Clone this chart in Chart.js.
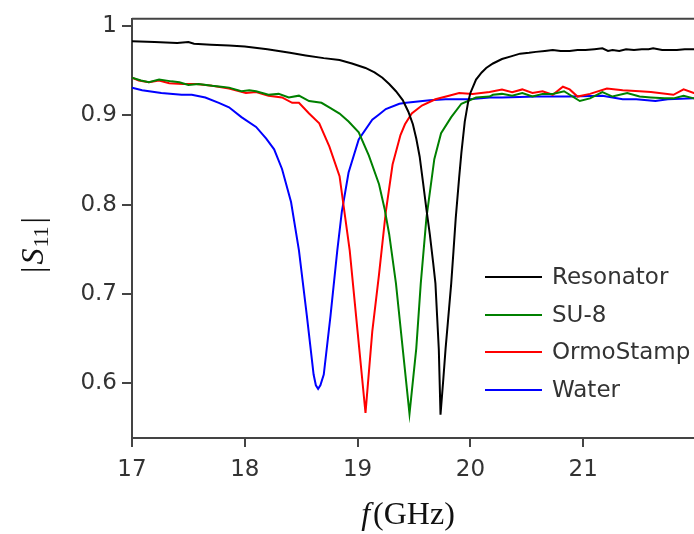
<!DOCTYPE html>
<html>
<head>
<meta charset="utf-8">
<script src="https://cdn.jsdelivr.net/npm/chart.js@4.4.1/dist/chart.umd.min.js"></script>
<style>
  html, body { margin: 0; padding: 0; background: #fff; overflow: hidden; }
  #wrap { position: absolute; left: 0; top: 0; width: 720px; height: 534px; }
</style>
</head>
<body>
<div id="wrap"><canvas id="myChart" width="720" height="534"></canvas></div>
<script>
// |S11| vs frequency (GHz)
var seriesNames = ['Resonator', 'SU-8', 'OrmoStamp', 'Water'];
var seriesColors = ['#000000', '#008000', '#ff0000', '#0000ff'];

var resonatorF = [17.00, 17.20, 17.40, 17.50, 17.55, 17.70, 17.86, 18.00, 18.20, 18.40, 18.54, 18.70, 18.84, 18.95, 19.07, 19.15,
  19.22, 19.28, 19.34, 19.40, 19.45, 19.49, 19.52, 19.55, 19.58, 19.61, 19.64, 19.67, 19.69, 19.705, 19.72, 19.735, 19.76, 19.78,
  19.80, 19.83, 19.85, 19.87, 19.90, 19.92, 19.95, 19.98, 20.00, 20.05, 20.10, 20.14, 20.20, 20.28, 20.36, 20.44, 20.52, 20.58,
  20.66, 20.73, 20.80, 20.88, 20.95, 21.02, 21.10, 21.17, 21.22, 21.26, 21.32, 21.38, 21.45, 21.52, 21.58, 21.62, 21.70, 21.76,
  21.83, 21.90, 21.98, 22.00];
var resonatorS = [0.983, 0.982, 0.981, 0.982, 0.980, 0.979, 0.978, 0.977, 0.974, 0.970, 0.967, 0.964, 0.962, 0.958, 0.953, 0.948,
  0.942, 0.935, 0.927, 0.917, 0.904, 0.890, 0.874, 0.854, 0.825, 0.795, 0.767, 0.735, 0.712, 0.675, 0.638, 0.565, 0.605, 0.639,
  0.668, 0.712, 0.748, 0.785, 0.830, 0.858, 0.893, 0.915, 0.925, 0.940, 0.948, 0.953, 0.958, 0.963, 0.966, 0.969, 0.970, 0.971,
  0.972, 0.973, 0.972, 0.972, 0.973, 0.973, 0.974, 0.975, 0.972, 0.973, 0.972, 0.974, 0.973, 0.974, 0.974, 0.975, 0.973, 0.973,
  0.973, 0.974, 0.974, 0.974];

var su8F = [17.00, 17.08, 17.15, 17.24, 17.35, 17.42, 17.50, 17.59, 17.71, 17.79, 17.86, 17.97, 18.04, 18.10, 18.21, 18.30, 18.39,
  18.48, 18.57, 18.68, 18.76, 18.84, 18.92, 19.01, 19.10, 19.19, 19.24, 19.28, 19.34, 19.40, 19.46, 19.52, 19.56, 19.61, 19.68,
  19.74, 19.83, 19.92, 20.05, 20.17, 20.20, 20.28, 20.37, 20.46, 20.55, 20.64, 20.73, 20.83, 20.97, 21.06, 21.17, 21.26, 21.39,
  21.50, 21.60, 21.72, 21.80, 21.89, 21.98, 22.00];
var su8S = [0.942, 0.939, 0.937, 0.940, 0.938, 0.937, 0.934, 0.935, 0.933, 0.932, 0.931, 0.927, 0.928, 0.927, 0.923, 0.924, 0.920,
  0.922, 0.916, 0.914, 0.908, 0.902, 0.893, 0.881, 0.855, 0.823, 0.795, 0.767, 0.712, 0.639, 0.566, 0.639, 0.712, 0.785, 0.851,
  0.880, 0.898, 0.913, 0.920, 0.921, 0.923, 0.924, 0.922, 0.925, 0.921, 0.924, 0.924, 0.927, 0.916, 0.919, 0.926, 0.921, 0.925,
  0.921, 0.920, 0.919, 0.919, 0.922, 0.919, 0.919];

var ormoF = [17.00, 17.06, 17.15, 17.24, 17.33, 17.45, 17.57, 17.71, 17.86, 18.01, 18.10, 18.21, 18.33, 18.42, 18.48, 18.57, 18.66,
  18.75, 18.84, 18.93, 19.00, 19.07, 19.13, 19.19, 19.25, 19.31, 19.38, 19.42, 19.48, 19.57, 19.69, 19.81, 19.90, 20.02, 20.17,
  20.28, 20.37, 20.46, 20.55, 20.64, 20.73, 20.82, 20.88, 20.95, 21.06, 21.21, 21.35, 21.50, 21.60, 21.80, 21.89, 21.98, 22.00];
var ormoS = [0.942, 0.939, 0.937, 0.939, 0.936, 0.935, 0.935, 0.933, 0.930, 0.925, 0.926, 0.922, 0.920, 0.914, 0.914, 0.902, 0.891,
  0.865, 0.832, 0.749, 0.658, 0.567, 0.658, 0.722, 0.792, 0.845, 0.878, 0.890, 0.902, 0.911, 0.918, 0.922, 0.925, 0.924, 0.926,
  0.929, 0.926, 0.929, 0.925, 0.927, 0.923, 0.932, 0.929, 0.921, 0.924, 0.930, 0.928, 0.927, 0.926, 0.923, 0.929, 0.925, 0.925];

var waterF = [17.00, 17.09, 17.26, 17.44, 17.53, 17.65, 17.77, 17.86, 17.97, 18.10, 18.19, 18.26, 18.33, 18.41, 18.48, 18.55, 18.61,
  18.63, 18.65, 18.67, 18.70, 18.76, 18.82, 18.86, 18.92, 19.01, 19.13, 19.19, 19.25, 19.37, 19.43, 19.64, 19.78, 19.99, 20.17,
  20.28, 20.59, 20.88, 21.17, 21.35, 21.47, 21.64, 21.75, 21.98, 22.00];
var waterS = [0.931, 0.928, 0.925, 0.923, 0.923, 0.920, 0.914, 0.909, 0.898, 0.887, 0.874, 0.862, 0.840, 0.803, 0.749, 0.676, 0.610,
  0.598, 0.594, 0.598, 0.610, 0.676, 0.749, 0.792, 0.836, 0.873, 0.895, 0.901, 0.907, 0.913, 0.914, 0.917, 0.918, 0.918, 0.920,
  0.920, 0.921, 0.921, 0.922, 0.918, 0.918, 0.916, 0.918, 0.919, 0.919];

var xTicks = [17, 18, 19, 20, 21];
var yTicks = [0.6, 0.7, 0.8, 0.9, 1];

function toPoints(f, s) {
  return f.map(function (v, i) { return {x: v, y: s[i]}; });
}
var allF = [resonatorF, su8F, ormoF, waterF];
var allS = [resonatorS, su8S, ormoS, waterS];

var datasets = seriesNames.map(function (name, i) {
  return {
    label: name,
    data: toPoints(allF[i], allS[i]),
    borderColor: seriesColors[i],
    backgroundColor: seriesColors[i],
    borderWidth: 2,
    pointRadius: 0,
    tension: 0,
    showLine: true
  };
});

var axisColor = '#444444';
var textColor = '#333333';

// frame, axis titles and legend drawn by hand
var extras = {
  id: 'extras',
  afterDraw: function (chart) {
    var ctx = chart.ctx;
    var a = chart.chartArea;
    ctx.save();
    ctx.strokeStyle = axisColor;
    ctx.lineWidth = 2;
    ctx.beginPath();
    ctx.moveTo(a.left, a.top);
    ctx.lineTo(a.right, a.top);
    ctx.lineTo(a.right, a.bottom);
    ctx.stroke();

    // x title: f(GHz)
    ctx.fillStyle = '#111';
    ctx.textBaseline = 'alphabetic';
    var fFont = 'italic 32px "Liberation Serif"';
    var rFont = '32px "Liberation Serif"';
    ctx.font = fFont;
    var w1 = ctx.measureText('f').width + 3;
    ctx.font = rFont;
    var w2 = ctx.measureText('(GHz)').width;
    var cx = 408, by = 524;
    var x0 = cx - (w1 + w2) / 2;
    ctx.font = fFont;
    ctx.fillText('f', x0, by);
    ctx.font = rFont;
    ctx.fillText('(GHz)', x0 + w1, by);

    // y title: |S11|
    ctx.save();
    ctx.translate(43, 245);
    ctx.rotate(-Math.PI / 2);
    var barW, sW, subW;
    ctx.font = rFont;
    barW = ctx.measureText('|').width;
    ctx.font = fFont;
    sW = ctx.measureText('S').width;
    ctx.font = '22px "Liberation Serif"';
    subW = ctx.measureText('11').width;
    var total = barW * 2 + sW + subW + 6;
    var px = -total / 2;
    ctx.font = rFont;
    ctx.fillText('|', px, 0);
    px += barW + 2;
    ctx.font = fFont;
    ctx.fillText('S', px, 0);
    px += sW + 1;
    ctx.font = '22px "Liberation Serif"';
    ctx.fillText('11', px, 5);
    px += subW + 3;
    ctx.font = rFont;
    ctx.fillText('|', px, 0);
    ctx.restore();

    // legend
    var rows = [277, 315, 352, 390];
    ctx.font = '23px "DejaVu Sans"';
    ctx.textBaseline = 'middle';
    seriesNames.forEach(function (name, i) {
      ctx.strokeStyle = seriesColors[i];
      ctx.lineWidth = 2;
      ctx.beginPath();
      ctx.moveTo(485, rows[i]);
      ctx.lineTo(542, rows[i]);
      ctx.stroke();
      ctx.fillStyle = textColor;
      ctx.fillText(name, 552, rows[i] + 1);
    });
    ctx.restore();
  }
};

var ctx = document.getElementById('myChart').getContext('2d');
var myChart = new Chart(ctx, {
  type: 'scatter',
  data: { datasets: datasets },
  options: {
    responsive: false,
    animation: false,
    devicePixelRatio: 1,
    layout: { padding: { left: 0, right: 24, top: 9, bottom: 0 } },
    plugins: {
      legend: { display: false },
      tooltip: { enabled: false }
    },
    scales: {
      x: {
        type: 'linear',
        min: 17,
        max: 22,
        afterBuildTicks: function (scale) {
          scale.ticks = xTicks.map(function (v) { return {value: v}; });
        },
        afterFit: function (scale) { scale.height = 96; },
        ticks: {
          color: textColor,
          font: { family: 'DejaVu Sans', size: 23 },
          padding: 9,
          maxRotation: 0,
          callback: function (v) { return String(v); }
        },
        grid: { drawOnChartArea: false, drawTicks: true, tickLength: 9, color: axisColor, lineWidth: 2 },
        border: { display: true, color: axisColor, width: 2 }
      },
      y: {
        type: 'linear',
        min: 0.539,
        max: 1.008,
        afterBuildTicks: function (scale) {
          scale.ticks = yTicks.map(function (v) { return {value: v}; });
        },
        afterFit: function (scale) { scale.width = 132; },
        ticks: {
          color: textColor,
          font: { family: 'DejaVu Sans', size: 23 },
          padding: 5,
          callback: function (v) { return String(Math.round(v * 10) / 10); }
        },
        grid: { drawOnChartArea: false, drawTicks: true, tickLength: 10, color: axisColor, lineWidth: 2 },
        border: { display: true, color: axisColor, width: 2 }
      }
    }
  },
  plugins: [extras]
});
</script>
</body>
</html>
